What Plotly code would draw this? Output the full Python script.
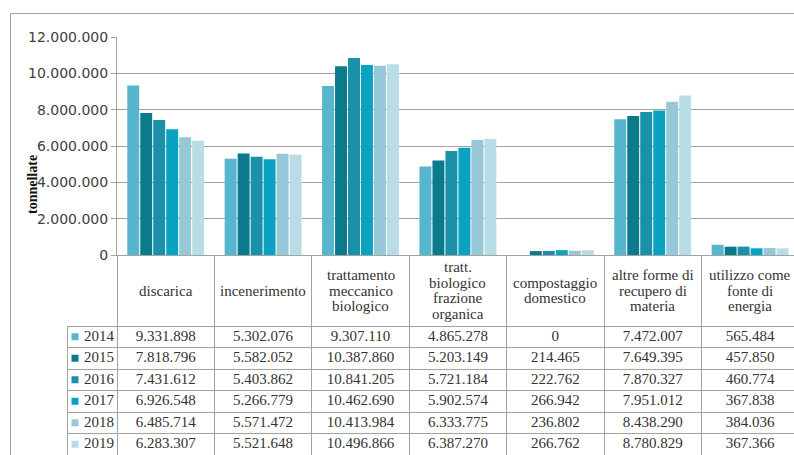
import plotly.graph_objects as go

# ---------------- data ----------------
categories = [
    "discarica",
    "incenerimento",
    "trattamento meccanico biologico",
    "tratt. biologico frazione organica",
    "compostaggio domestico",
    "altre forme di recupero di materia",
    "utilizzo come fonte di energia",
]
header_lines = [
    ["discarica"],
    ["incenerimento"],
    ["trattamento", "meccanico", "biologico"],
    ["tratt.", "biologico", "frazione", "organica"],
    ["compostaggio", "domestico"],
    ["altre forme di", "recupero di", "materia"],
    ["utilizzo come", "fonte di", "energia"],
]
years = ["2014", "2015", "2016", "2017", "2018", "2019"]
v2014 = [9331898, 5302076, 9307110, 4865278, 0, 7472007, 565484]
v2015 = [7818796, 5582052, 10387860, 5203149, 214465, 7649395, 457850]
v2016 = [7431612, 5403862, 10841205, 5721184, 222762, 7870327, 460774]
v2017 = [6926548, 5266779, 10462690, 5902574, 266942, 7951012, 367838]
v2018 = [6485714, 5571472, 10413984, 6333775, 236802, 8438290, 384036]
v2019 = [6283307, 5521648, 10496866, 6387270, 266762, 8780829, 367366]
series = [v2014, v2015, v2016, v2017, v2018, v2019]
y_ticks = [0, 2000000, 4000000, 6000000, 8000000, 10000000, 12000000]
y_title = "tonnellate"

# ---------------- styles / geometry ----------------
colors = ["#57B5CD", "#0B7A8D", "#1A90A9", "#09A3C1", "#96C8D8", "#B9DDE6"]
GRID = "#A3A3A3"
TXT = "#333333"
W, H = 794, 455
PLOT_L, Y_TOP, Y_BOT = 117, 37, 255
CAT_W = 97.4
TABLE_L = 67
HEADER_H = 71
ROW_H = 21.5
HEAD_CY, HEAD_LS = 290.5, 15.5
SERIF = "Liberation Serif"


def fmt(v):
    return f"{v:,}".replace(",", ".")


def py(px):
    return (H - px) / H


def px_x(px):
    return px / W


fig = go.Figure()

for yr, vals, col in zip(years, series, colors):
    fig.add_trace(go.Bar(x=categories, y=vals, name=yr, marker=dict(color=col, line=dict(width=0)),
                         xaxis="x", yaxis="y", showlegend=False))

# table grid (lines only)
n_cols = len(categories) + 1
last_w = W - (PLOT_L + CAT_W * (len(categories) - 1))
col_widths = [PLOT_L - TABLE_L] + [CAT_W] * (len(categories) - 1) + [last_w]
fig.add_trace(go.Table(
    domain=dict(x=[px_x(TABLE_L), 1], y=[0, (H - Y_BOT) / H]),
    columnwidth=col_widths,
    header=dict(values=[""] * n_cols, height=HEADER_H,
                line=dict(color=["rgba(0,0,0,0)"] + [GRID] * (n_cols - 1), width=1),
                fill=dict(color="rgba(0,0,0,0)")),
    cells=dict(values=[[""] * len(years)] * n_cols, height=ROW_H,
               line=dict(color=GRID, width=1),
               fill=dict(color="rgba(0,0,0,0)")),
))

# table values (text on category axis x and row axis y3)
for yr, vals in zip(years, series):
    fig.add_trace(go.Scatter(x=categories, y=[yr] * len(categories), mode="text",
                             text=[fmt(v) for v in vals], textposition="middle center",
                             textfont=dict(family=SERIF, size=15, color=TXT),
                             xaxis="x", yaxis="y3", showlegend=False, cliponaxis=False,
                             hoverinfo="skip"))

# legend column: swatches + years
fig.add_trace(go.Scatter(x=[8] * len(years), y=years, mode="markers",
                         marker=dict(symbol="square", size=7, color=colors),
                         xaxis="x3", yaxis="y3", showlegend=False, hoverinfo="skip", cliponaxis=False))
fig.add_trace(go.Scatter(x=[47] * len(years), y=years, mode="text", text=years,
                         textposition="middle left",
                         textfont=dict(family=SERIF, size=15, color=TXT),
                         xaxis="x3", yaxis="y3", showlegend=False, hoverinfo="skip", cliponaxis=False))

annotations = []
for cat, lines in zip(categories, header_lines):
    n = len(lines)
    for j, ln in enumerate(lines):
        ypx = HEAD_CY + (j - (n - 1) / 2) * HEAD_LS
        annotations.append(dict(x=cat, xref="x", y=py(ypx), yref="paper", text=ln,
                                showarrow=False, xanchor="center", yanchor="middle",
                                font=dict(family=SERIF, size=15, color=TXT)))
annotations.append(dict(x=px_x(32), xref="paper", y=py(185), yref="paper", text=f"<b>{y_title}</b>",
                        textangle=-90, showarrow=False, xanchor="center", yanchor="middle",
                        font=dict(family=SERIF, size=14, color="#111111")))

n_rows = len(years)
fig.update_layout(
    width=W, height=H,
    margin=dict(l=0, r=0, t=0, b=0, autoexpand=False),
    paper_bgcolor="white", plot_bgcolor="white",
    separators=",.",
    barmode="group", bargap=0.2, bargroupgap=0.08,
    showlegend=False,
    annotations=annotations,
    shapes=[dict(type="rect", xref="paper", yref="paper", x0=px_x(10.5), x1=1.05,
                 y0=-0.05, y1=py(13.5), line=dict(color=GRID, width=1), layer="below")],
    xaxis=dict(domain=[px_x(PLOT_L), 1], range=[-0.5, -0.5 + (W - PLOT_L) / CAT_W],
               type="category", categoryarray=categories, showticklabels=False, ticks="",
               showgrid=False, zeroline=False, showline=True, linecolor=GRID, linewidth=1,
               anchor="y", automargin=False),
    yaxis=dict(domain=[py(Y_BOT), py(Y_TOP)], range=[0, 12000000], tickvals=y_ticks,
               tickformat=",.0f", showgrid=True, gridcolor=GRID, gridwidth=1,
               zeroline=False, showline=True, linecolor=GRID, linewidth=1,
               ticks="outside", ticklen=5, tickcolor=GRID, automargin=False,
               tickfont=dict(family="DejaVu Sans", size=14, color="#404040"), anchor="x"),
    yaxis3=dict(domain=[0, py(Y_BOT + HEADER_H)], type="category", categoryarray=years,
                range=[n_rows - 0.5, -0.5], visible=False, anchor="x", fixedrange=True,
                automargin=False),
    xaxis3=dict(domain=[px_x(TABLE_L), px_x(PLOT_L)], range=[0, PLOT_L - TABLE_L],
                visible=False, anchor="y3", fixedrange=True, automargin=False),
)

fig.write_html("out.html", config={"displayModeBar": False},
               post_script="document.body.style.margin='0';")
